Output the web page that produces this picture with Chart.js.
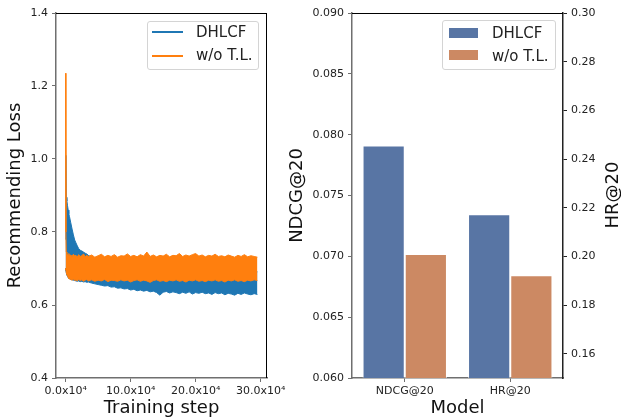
<!DOCTYPE html>
<html><head><meta charset="utf-8">
<script src="https://cdn.jsdelivr.net/npm/chart.js@4"></script>
<style>
html,body{margin:0;padding:0;background:#fff;}
#wrap{position:relative;width:621px;height:420px;overflow:hidden;font-family:"DejaVu Sans",sans-serif;}
canvas{position:absolute;top:0;}
.legend{position:absolute;border:1px solid #d4d4d4;border-radius:3px;background:rgba(255,255,255,0.8);box-sizing:border-box;}
.legend .t{position:absolute;font-size:15px;color:#222;line-height:15px;white-space:nowrap;}
.legend .ln{position:absolute;height:2px;}
.legend .pt{position:absolute;}
#hrTitle{position:absolute;left:562px;top:184px;width:100px;height:22px;line-height:22px;text-align:center;font-size:18px;color:#111;transform:rotate(-90deg);white-space:nowrap;}
</style></head>
<body>
<div id="wrap">
  <canvas id="c1" width="300" height="420" style="left:0"></canvas>
  <canvas id="c2" width="341" height="420" style="left:280px"></canvas>
  <div class="legend" style="left:147px;top:21px;width:112px;height:49px;">
    <div class="ln" style="left:4px;top:9px;width:31px;background:#1f77b4"></div>
    <div class="t" style="left:48px;top:3px;">DHLCF</div>
    <div class="ln" style="left:4px;top:33px;width:31px;background:#ff7f0e"></div>
    <div class="t" style="left:48px;top:26px;">w/o T.L.</div>
  </div>
  <div class="legend" style="left:442px;top:20px;width:114px;height:50px;">
    <div class="pt" style="left:6px;top:7px;width:29px;height:10px;background:#5875a4"></div>
    <div class="t" style="left:49px;top:5px;">DHLCF</div>
    <div class="pt" style="left:6px;top:29px;width:29px;height:10px;background:#cc8963"></div>
    <div class="t" style="left:49px;top:28px;">w/o T.L.</div>
  </div>
  <div id="hrTitle">HR@20</div>
</div>
<script>
// ---- Left panel: training loss (noise band envelopes) ----
// training steps, in units of 10^4
const steps = [0, 0.05, 0.1, 0.2, 0.3, 0.4, 0.5, 0.6, 0.8, 1.0, 1.2, 1.4, 1.6, 1.8, 2.0, 2.25, 2.5, 2.75, 3.0, 3.25, 3.5,
  4.0, 4.5, 5.0, 5.5, 6.0, 6.5, 7.0, 7.5, 8.0, 8.5, 9.0, 9.5, 10.0, 10.5, 11.0, 11.5, 12.0, 12.5, 13.0, 13.5,
  14.0, 14.5, 15.0, 15.5, 16.0, 16.5, 17.0, 17.5, 18.0, 18.5, 19.0, 19.5, 20.0, 20.5, 21.0, 21.5, 22.0, 22.5,
  23.0, 23.5, 24.0, 24.5, 25.0, 25.5, 26.0, 26.5, 27.0, 27.5, 28.0, 28.5, 29.0, 29.5];

const dhlcfUpper = [0.780, 1.010, 0.895, 0.885, 0.872, 0.860, 0.850, 0.842, 0.825, 0.808, 0.792, 0.778, 0.770, 0.762, 0.755, 0.750, 0.748, 0.745, 0.742, 0.740, 0.736,
  0.731, 0.726, 0.722, 0.718, 0.715, 0.712, 0.710, 0.708, 0.706, 0.705,
  0.704, 0.703, 0.703, 0.702, 0.701, 0.701, 0.700, 0.700, 0.699, 0.699,
  0.698, 0.698, 0.698, 0.697, 0.697, 0.697, 0.696, 0.696, 0.696, 0.696,
  0.695, 0.695, 0.695, 0.695, 0.694, 0.694, 0.694, 0.694, 0.694, 0.693,
  0.693, 0.693, 0.693, 0.693, 0.692, 0.692, 0.692, 0.692, 0.692, 0.692,
  0.691, 0.691];
const dhlcfLower = [0.700, 0.694, 0.688, 0.682, 0.678, 0.675, 0.673, 0.672, 0.670, 0.669, 0.668, 0.667, 0.666, 0.665, 0.666, 0.664, 0.665, 0.663, 0.664, 0.662, 0.663,
  0.660, 0.658, 0.656, 0.654, 0.652, 0.653, 0.649, 0.650, 0.646, 0.647,
  0.644, 0.645, 0.641, 0.643, 0.639, 0.641, 0.638, 0.640, 0.636, 0.638,
  0.634, 0.627, 0.635, 0.637, 0.633, 0.636, 0.634, 0.631, 0.635, 0.632,
  0.636, 0.630, 0.634, 0.632, 0.635, 0.631, 0.633, 0.629, 0.634, 0.631,
  0.633, 0.628, 0.632, 0.630, 0.627, 0.632, 0.629, 0.633, 0.630, 0.628,
  0.631, 0.629];
const wotlUpper = [1.235, 0.800, 0.745, 0.742, 0.738, 0.736, 0.741, 0.735, 0.737, 0.733, 0.739, 0.734, 0.736, 0.731, 0.738, 0.733, 0.735, 0.740, 0.732, 0.736, 0.733,
  0.737, 0.731, 0.735, 0.739, 0.732, 0.736, 0.733, 0.738, 0.731, 0.735,
  0.734, 0.740, 0.733, 0.736, 0.732, 0.738, 0.734, 0.745, 0.733, 0.737,
  0.732, 0.736, 0.734, 0.739, 0.732, 0.736, 0.735, 0.741, 0.733, 0.737,
  0.734, 0.738, 0.741, 0.734, 0.737, 0.732, 0.736, 0.734, 0.739, 0.733,
  0.735, 0.732, 0.737, 0.734, 0.731, 0.736, 0.733, 0.738, 0.732, 0.735,
  0.733, 0.731];
const wotlLower = [0.700, 0.696, 0.690, 0.684, 0.679, 0.676, 0.673, 0.671, 0.670, 0.668, 0.671, 0.667, 0.669, 0.666, 0.670, 0.667, 0.669, 0.665, 0.668, 0.670, 0.666,
  0.669, 0.665, 0.668, 0.666, 0.670, 0.664, 0.668, 0.667, 0.665, 0.669,
  0.666, 0.668, 0.663, 0.667, 0.669, 0.665, 0.668, 0.666, 0.662, 0.667,
  0.669, 0.665, 0.667, 0.664, 0.668, 0.666, 0.669, 0.665, 0.667, 0.663,
  0.668, 0.666, 0.669, 0.665, 0.667, 0.664, 0.668, 0.666, 0.669, 0.665,
  0.667, 0.663, 0.668, 0.666, 0.669, 0.665, 0.667, 0.664, 0.668, 0.666,
  0.669, 0.667];
const stepTicks = [0, 10, 20, 30];
const lossTicks = [0.4, 0.6, 0.8, 1.0, 1.2, 1.4];

// ---- Right panel: metrics ----
const metrics = ['NDCG@20', 'HR@20'];
const dhlcfScores = [0.0791, 0.2173];
const wotlScores = [0.0702, 0.1922];
const ndcgTicks = [0.060, 0.065, 0.070, 0.075, 0.080, 0.085, 0.090];
const hrTicks = [0.16, 0.18, 0.20, 0.22, 0.24, 0.26, 0.28, 0.30];

const BLUE = '#1f77b4', ORANGE = '#ff7f0e';
const BAR_BLUE = '#5875a4', BAR_ORANGE = '#cc8963';
const FONT = '"DejaVu Sans", sans-serif';
const tickFont = {family: FONT, size: 11};
const titleFont = {family: FONT, size: 18};
const SPINE = '#6f6f6f';

const frame = {
  id: 'frame',
  afterDraw(chart, args, opts) {
    const {ctx, chartArea: a} = chart;
    ctx.save();
    ctx.strokeStyle = '#000';
    ctx.lineWidth = 1;
    ctx.beginPath();
    ctx.moveTo(a.left, a.top + 0.5); ctx.lineTo(a.right, a.top + 0.5);
    if (opts.right) { ctx.moveTo(a.right - 0.5, a.top); ctx.lineTo(a.right - 0.5, a.bottom); }
    ctx.stroke();
    ctx.restore();
  }
};

const pts = arr => steps.map((s, i) => ({x: s, y: arr[i]}));
const band = (label, arr, color, fill) => ({
  label, data: pts(arr), borderColor: color, backgroundColor: color,
  borderWidth: 1, pointRadius: 0, tension: 0, fill
});

new Chart(document.getElementById('c1'), {
  type: 'line',
  data: {datasets: [
    band('w/o T.L. (low)', wotlLower, ORANGE, false),
    band('w/o T.L.', wotlUpper, ORANGE, '-1'),
    band('DHLCF (low)', dhlcfLower, BLUE, false),
    band('DHLCF', dhlcfUpper, BLUE, '-1')
  ]},
  options: {
    responsive: false, animation: false, events: [],
    layout: {padding: {left: 0, right: 33, top: 13, bottom: 0}},
    plugins: {legend: {display: false}, tooltip: {enabled: false}, frame: {right: true}},
    scales: {
      x: {
        type: 'linear', min: -1.475, max: 30.975, z: 1,
        afterFit(s) { s.height = 42; },
        afterBuildTicks(s) { s.ticks = stepTicks.map(v => ({value: v})); },
        ticks: {callback: v => v.toFixed(1) + 'x10\u2074', font: tickFont, color: '#222', padding: 3, maxRotation: 0, autoSkip: false},
        grid: {drawOnChartArea: false, tickLength: 4, tickColor: SPINE},
        border: {color: SPINE, width: 1.5},
        title: {display: true, text: 'Training step', font: titleFont, color: '#111', padding: {top: 0, bottom: 1}}
      },
      y: {
        min: 0.4, max: 1.4,
        afterFit(s) { s.width = 56; },
        afterBuildTicks(s) { s.ticks = lossTicks.map(v => ({value: v})); },
        ticks: {callback: v => v.toFixed(1), font: tickFont, color: '#222', padding: 4},
        grid: {drawOnChartArea: false, tickLength: 4, tickColor: SPINE},
        border: {color: SPINE, width: 1.5},
        title: {display: true, text: 'Recommending Loss', font: titleFont, color: '#111', padding: {top: 5, bottom: 0}}
      }
    }
  },
  plugins: [frame]
});

const barDs = (label, data, axis, stack, color) => ({
  label, data, yAxisID: axis, stack, backgroundColor: color,
  borderColor: 'rgba(255,255,255,0.6)', borderWidth: 1,
  categoryPercentage: 0.8, barPercentage: 1.0
});

new Chart(document.getElementById('c2'), {
  type: 'bar',
  data: {
    labels: metrics,
    datasets: [
      barDs('DHLCF', [dhlcfScores[0], null], 'y', 'a', BAR_BLUE),
      barDs('DHLCF', [null, dhlcfScores[1]], 'y2', 'a', BAR_BLUE),
      barDs('w/o T.L.', [wotlScores[0], null], 'y', 'b', BAR_ORANGE),
      barDs('w/o T.L.', [null, wotlScores[1]], 'y2', 'b', BAR_ORANGE)
    ]
  },
  options: {
    responsive: false, animation: false, events: [],
    layout: {padding: {left: 0, right: 0, top: 13, bottom: 0}},
    plugins: {legend: {display: false}, tooltip: {enabled: false}, frame: {right: false}},
    scales: {
      x: {
        z: 1,
        afterFit(s) { s.height = 42; },
        ticks: {font: tickFont, color: '#222', padding: 3, maxRotation: 0},
        grid: {drawOnChartArea: false, offset: false, tickLength: 4, tickColor: SPINE},
        border: {color: SPINE, width: 1.5},
        title: {display: true, text: 'Model', font: titleFont, color: '#111', padding: {top: 0, bottom: 1}}
      },
      y: {
        position: 'left', min: 0.06, max: 0.09, stacked: false,
        afterFit(s) { s.width = 72; },
        afterBuildTicks(s) { s.ticks = ndcgTicks.map(v => ({value: v})); },
        ticks: {callback: v => v.toFixed(3), font: tickFont, color: '#222', padding: 4},
        grid: {drawOnChartArea: false, tickLength: 4, tickColor: SPINE},
        border: {color: SPINE, width: 1.5},
        title: {display: true, text: 'NDCG@20', font: titleFont, color: '#111', padding: {top: 7, bottom: 0}}
      },
      y2: {
        position: 'right', min: 0.15, max: 0.30, stacked: false,
        afterFit(s) { s.width = 58; },
        afterBuildTicks(s) { s.ticks = hrTicks.map(v => ({value: v})); },
        ticks: {callback: v => v.toFixed(2), font: tickFont, color: '#222', padding: 4},
        grid: {drawOnChartArea: false, tickLength: 4, tickColor: '#222'},
        border: {color: '#222', width: 1.5}
      }
    }
  },
  plugins: [frame]
});
</script>
</body></html>
